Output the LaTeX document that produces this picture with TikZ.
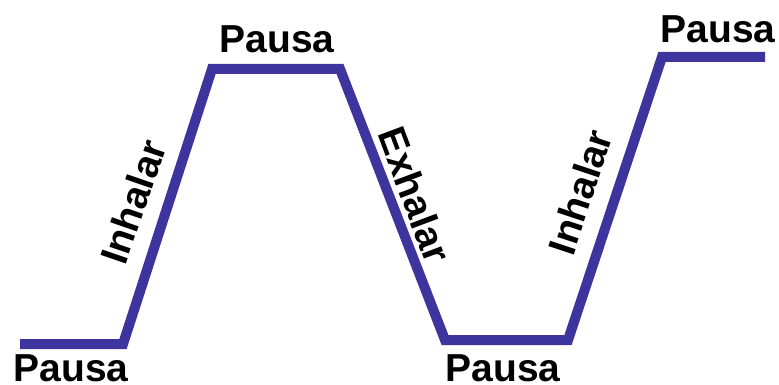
\documentclass[tikz,border=0pt]{standalone}
\usepackage{fontspec}
\setmainfont{Liberation Sans}
\definecolor{wave}{RGB}{62,52,158}
\tikzset{
  wavepath/.style={draw=wave, line width=10pt, line join=miter, line cap=butt},
  lbl/.style={inner sep=0pt, font=\bfseries\fontsize{39}{39}\selectfont, text=black},
}
\begin{document}
\begin{tikzpicture}[x=1pt,y=-1pt]
\useasboundingbox[fill=white] (0,0) rectangle (779,385);
\coordinate (s) at (20,344);
\coordinate (c1) at (123,344);
\coordinate (c2) at (212,69);
\coordinate (c3) at (340,69);
\coordinate (c4) at (445,340);
\coordinate (c5) at (568,340);
\coordinate (c6) at (662,57);
\coordinate (e) at (765,57);
\draw[wavepath] (s) -- (c1) -- (c2) -- (c3) -- (c4) -- (c5) -- (c6) -- (e);
\node[lbl, anchor=base] (p1) at (71,381.5) {Pausa};
\node[lbl, anchor=base] (p2) at (277,53) {Pausa};
\node[lbl, anchor=base] (p3) at (503,381) {Pausa};
\node[lbl, anchor=base] (p4) at (718,43) {Pausa};
\node[lbl, rotate=71] (i1) at (133,202) {Inhalar};
\node[lbl, rotate=-69.4] (x1) at (415,195) {Exhalar};
\node[lbl, rotate=71.6] (i2) at (580,192) {Inhalar};
\end{tikzpicture}
\end{document}
